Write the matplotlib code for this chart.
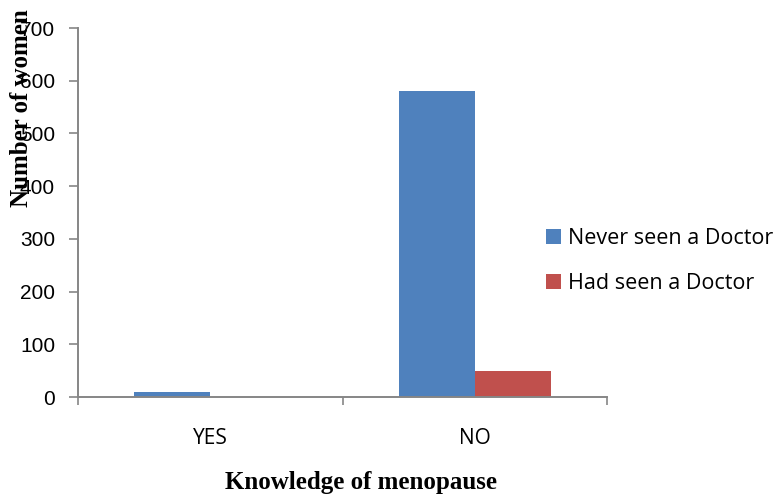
import matplotlib
matplotlib.use("Agg")
import matplotlib.pyplot as plt
import numpy as np

categories = ["YES", "NO"]
never_seen = [10, 580]
had_seen = [0, 50]
series_labels = ["Never seen a Doctor", "Had seen a Doctor"]
yticks = [0, 100, 200, 300, 400, 500, 600, 700]

fig = plt.figure(figsize=(7.75, 4.98), dpi=100)
ax = fig.add_axes([78/775, 1-397/498, (607-78)/775, (397-28)/498])

x = np.arange(len(categories))
w = 0.287
b1 = ax.bar(x - w/2, never_seen, w, color="#4F81BD", label=series_labels[0])
b2 = ax.bar(x + w/2, had_seen, w, color="#C0504D", label=series_labels[1])

ax.set_xlim(-0.5, 1.5)
ax.set_ylim(0, 700)
ax.set_yticks(yticks)
ax.set_yticklabels([str(v) for v in yticks], fontsize=15, family="Liberation Sans")
ax.set_xticks([-0.5, 0.5, 1.5], minor=False)
ax.set_xticklabels([])
ax.set_xticks(x, minor=True)
ax.set_xticklabels(categories, minor=True, fontsize=15, family="Open Sans")
ax.tick_params(axis="x", which="minor", length=0, pad=22)
ax.tick_params(axis="x", which="major", length=6, color="#868686", width=1.2)
ax.tick_params(axis="y", length=6.5, color="#868686", width=1.2, pad=10)

for s in ["top", "right"]:
    ax.spines[s].set_visible(False)
for s in ["left", "bottom"]:
    ax.spines[s].set_color("#868686")
    ax.spines[s].set_linewidth(1.4)

fig.text(22/775, 1-108/498, "Number of women", rotation=90, ha="center", va="center",
         fontsize=18, fontweight="bold", family="Liberation Serif")
fig.text(361/775, 1-482/498, "Knowledge of menopause", ha="center", va="center",
         fontsize=18, fontweight="bold", family="Liberation Serif")

leg = fig.legend(handles=[b1, b2], labels=series_labels, loc="upper left",
                 bbox_to_anchor=(546/775, 1-228/498), frameon=False,
                 prop={"family": "Open Sans", "size": 15.5},
                 handlelength=0.7, handleheight=0.7, handletextpad=0.3, labelspacing=1.12,
                 borderaxespad=0, borderpad=0)

fig.savefig("out.png", dpi=100)
